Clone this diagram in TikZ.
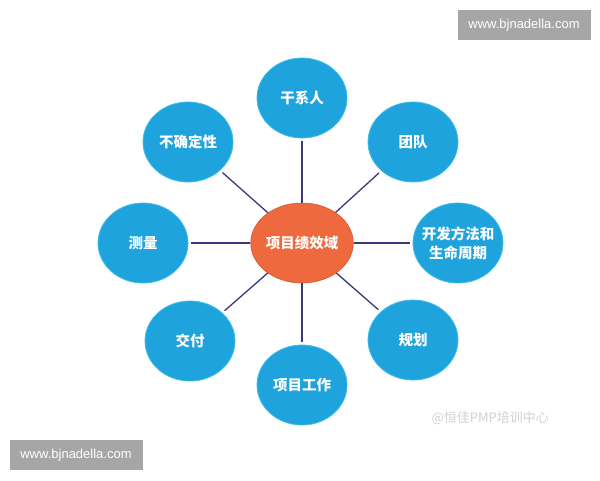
\documentclass[tikz,border=0pt]{standalone}
\usepackage{fontspec}
\setmainfont{Liberation Sans}
\newfontfamily\cjk{Noto Sans CJK SC}
\usetikzlibrary{shapes.geometric}
\definecolor{satblue}{HTML}{1EA3DC}
\definecolor{satedge}{HTML}{3CBDEB}
\definecolor{cenorange}{HTML}{EE6A3E}
\definecolor{cenedge}{HTML}{D9532A}
\definecolor{linkcol}{HTML}{3B3A78}
\definecolor{wmgray}{HTML}{A6A6A6}
\begin{document}
\begin{tikzpicture}[x=1pt,y=-1pt,
  sat/.style={ellipse,fill=satblue,draw=satedge,line width=0.8pt,minimum width=90pt,minimum height=80pt,inner sep=0pt,text=white,font=\cjk\bfseries\fontsize{14.5}{19}\selectfont,align=center},
  satlabel/.style={text=white,font=\cjk\bfseries\fontsize{14.5}{19}\selectfont,align=center,inner sep=0pt},
  hub/.style={ellipse,fill=cenorange,draw=cenedge,line width=0.6pt,minimum width=86pt,minimum height=80pt,inner sep=0pt,text=white,font=\cjk\bfseries\fontsize{14.5}{19}\selectfont},
  link/.style={draw=linkcol,line width=1.3pt,shorten >=3pt},
  wm/.style={fill=wmgray,text=white,font=\fontsize{13}{15}\selectfont,minimum width=133pt,minimum height=30pt,inner sep=0pt}]
\useasboundingbox (0,0) rectangle (600,480);
\node[hub] (c) at (302,243) {项目绩效域};
\node[sat] (s1) at (302,98) {干系人};
\node[sat] (s2) at (413,142) {团队};
\node[sat] (s3) at (458,243) {};
\node[satlabel] (s3t) at (s3.center) {开发方法和\\生命周期};
\node[sat] (s4) at (413,340) {规划};
\node[sat] (s5) at (302,385) {项目工作};
\node[sat] (s6) at (190,341) {交付};
\node[sat] (s7) at (143,243) {测量};
\node[sat] (s8) at (188,142) {不确定性};
\foreach \s in {s1,s2,s3,s4,s5,s6,s7,s8} \draw[link] (c) -- (\s);
\node[wm] (w1) at (524,25) {www.bjnadella.com};
\node[wm] (w2) at (76,455) {www.bjnadella.com};
\node[text=black!18,font=\cjk\fontsize{13}{15}\selectfont,anchor=west] (w3) at (428,418) {@恒佳PMP培训中心};
\end{tikzpicture}
\end{document}
